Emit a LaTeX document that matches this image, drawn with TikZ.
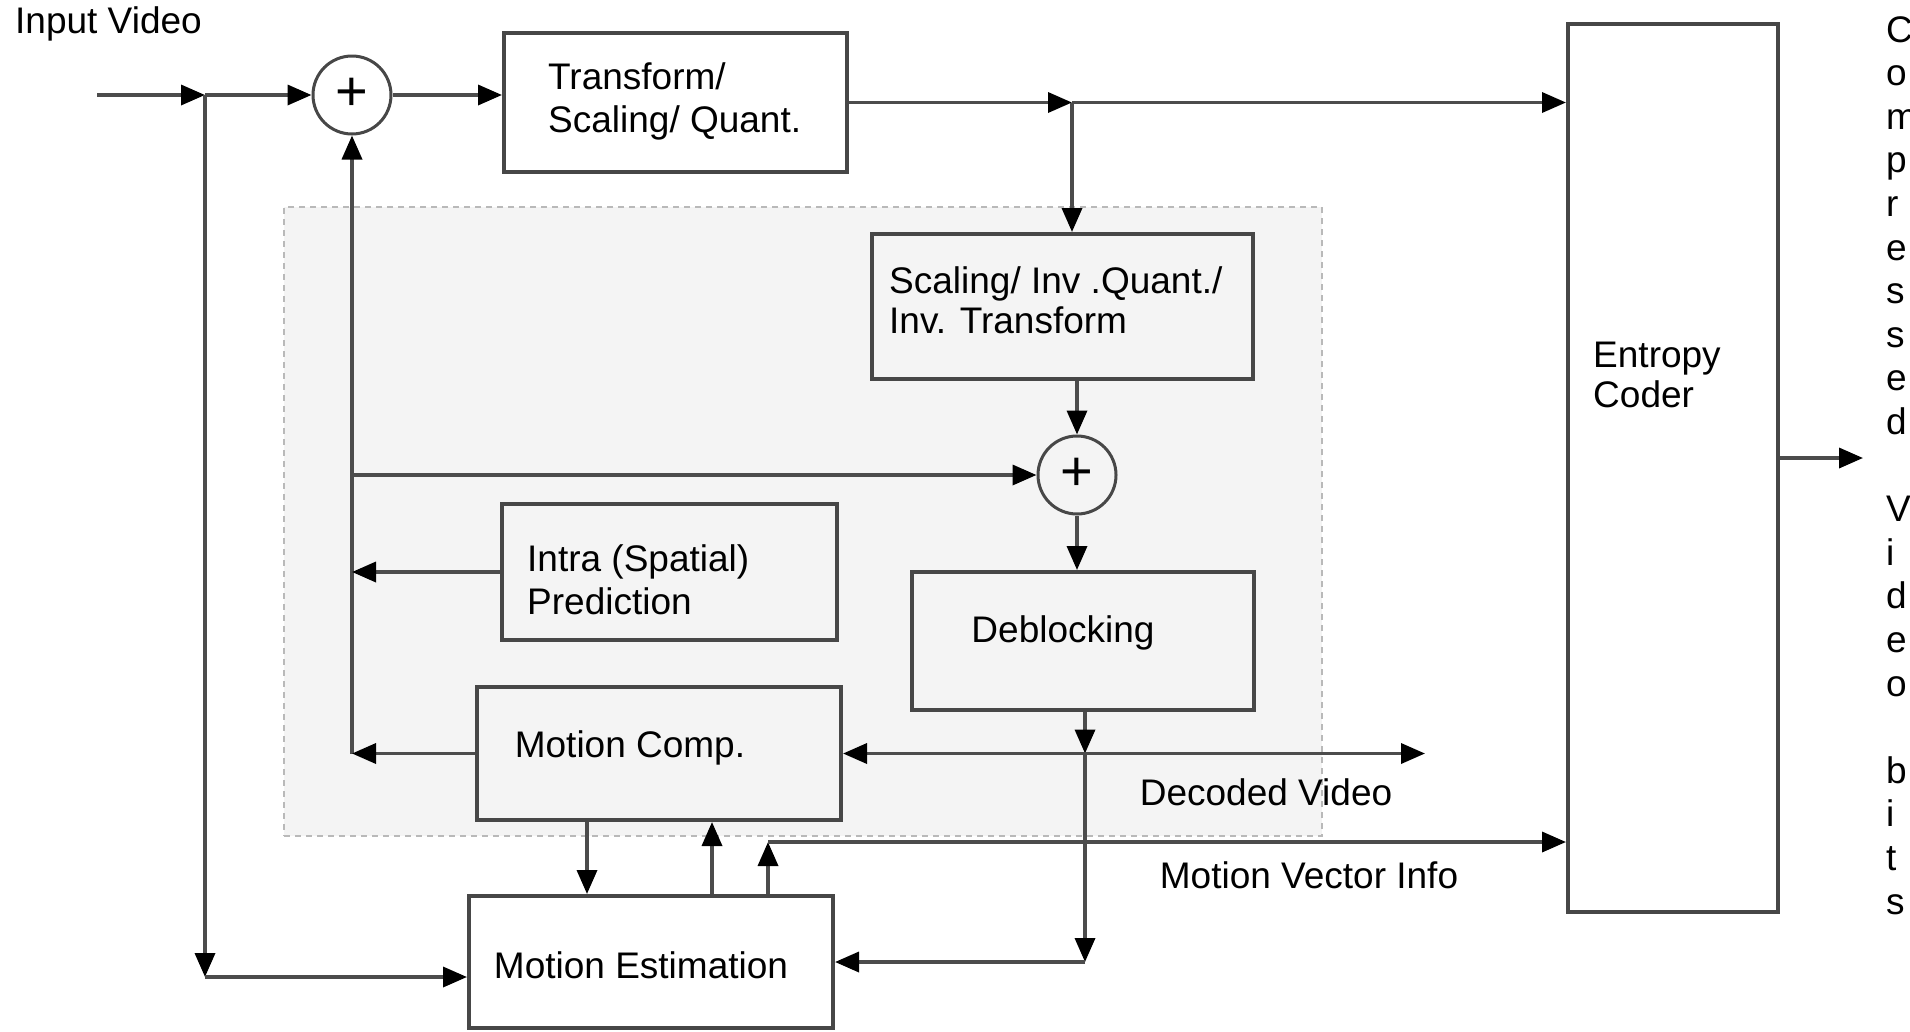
\documentclass[tikz,border=0pt]{standalone}
\usepackage{fontspec}
\setmainfont{Liberation Sans}
\usetikzlibrary{arrows.meta,calc}
\begin{document}
\begin{tikzpicture}[x=1pt,y=-1pt,
  box/.style={draw=black!72, line width=4pt, inner sep=0pt},
  region/.style={fill=gray!9, draw=gray!55, line width=2pt, dash pattern=on 6pt off 5pt, inner sep=0pt},
  sumnode/.style={circle, draw=black!72, line width=3pt, minimum size=78pt, inner sep=0pt, font=\fontsize{56}{56}\selectfont},
  conn/.style={draw=black!70, line width=3.5pt},
  arr/.style={conn, -{Triangle[length=24pt,width=20pt,color=black]}},
  lbl/.style={font=\fontsize{37}{43}\selectfont, inner sep=0pt, align=left}]
\useasboundingbox (0,0) rectangle (1910,1031);
% shaded region
\node[region, minimum width=1038pt, minimum height=629pt] (reg) at (803,521.5) {};
% boxes
\node[box, minimum width=343pt, minimum height=139pt] (trans) at (675.5,102.5) {};
\node[box, minimum width=381pt, minimum height=145pt] (inv) at (1062.5,306.5) {};
\node[box, minimum width=335pt, minimum height=136pt] (intra) at (669.5,572) {};
\node[box, minimum width=342pt, minimum height=138pt] (debl) at (1083,641) {};
\node[box, minimum width=364pt, minimum height=133pt] (mc) at (659,753.5) {};
\node[box, minimum width=364pt, minimum height=132pt] (me) at (651,962) {};
\node[box, minimum width=210pt, minimum height=888pt] (ent) at (1673,468) {};
\node[sumnode] (sum1) at (352,95) {\raisebox{2pt}{+}};
\node[sumnode] (sum2) at (1077,475) {\raisebox{2pt}{+}};
% coordinates
\coordinate (in) at (97,95);
\coordinate (br) at (205,95);
\coordinate (b2) at (1072,102.5);
\coordinate (c3) at (205,977);
\coordinate (j1) at (1085,753.5);
\coordinate (j2) at (1085,962);
\coordinate (dec) at (1425,753.5);
\coordinate (c4) at (768,842);
\coordinate (out) at (1863,458);
\coordinate (x1) at (587,0);
\coordinate (x2) at (712,0);
% connectors
\draw[arr] (in) -- (br);
\draw[arr] (br) -- (sum1.west);
\draw[arr] (sum1.east) -- (sum1.east -| trans.west);
\draw[arr] (trans.east) -- (b2);
\draw[arr] (b2) -- (b2 -| ent.west);
\draw[arr] (b2) -- (b2 |- inv.north);
\draw[arr] (inv.south -| sum2) -- (sum2.north);
\draw[arr] (sum2.south) -- (sum2.south |- debl.north);
\draw[arr] (mc.west -| sum1) -- (sum1.south);
\draw[arr] (sum2.west -| sum1) -- (sum2.west);
\draw[arr] (intra.west) -- (intra.west -| sum1);
\draw[arr] (mc.west) -- (mc.west -| sum1);
\draw[arr] (debl.south -| j1) -- (j1);
\draw[arr] (j1) -- (mc.east);
\draw[arr] (j1) -- (dec);
\draw[arr] (j1) -- (j2);
\draw[arr] (j2) -- (me.east);
\draw[arr] (br) -- (c3);
\draw[arr] (c3) -- (c3 -| me.west);
\draw[arr] (x1 |- mc.south) -- (x1 |- me.north);
\draw[arr] (x2 |- me.north) -- (x2 |- mc.south);
\draw[arr] (c4 |- me.north) -- (c4);
\draw[arr] (c4) -- (c4 -| ent.west);
\draw[arr] (ent.east |- out) -- (out);
% labels
\node[lbl, anchor=west] (inlbl) at (15,24) {Input Video};
\node[lbl, anchor=west] (translbl) at (548,101.5) {Transform/\\Scaling/ Quant.};
\node[lbl, anchor=west, font=\fontsize{37}{40}\selectfont] (invlbl) at (889,300) {Scaling/ Inv .Quant./\\Inv. Transform};
\node[lbl, anchor=west] (intralbl) at (527,580) {Intra (Spatial)\\Prediction};
\node[lbl] (debllbl) at (1063,633) {Deblocking};
\node[lbl] (mclbl) at (630,748) {Motion Comp.};
\node[lbl] (melbl) at (641,965) {Motion Estimation};
\node[lbl, anchor=west, font=\fontsize{37}{40}\selectfont] (entlbl) at (1593,375) {Entropy\\Coder};
\node[lbl] (declbl) at (1266,792) {Decoded Video};
\node[lbl] (mvlbl) at (1309,875) {Motion Vector Info};
\node[lbl, anchor=north west, font=\fontsize{37}{43.6}\selectfont] (outlbl) at (1886,16) {C\\o\\m\\p\\r\\e\\s\\s\\e\\d\\[43.6pt]V\\i\\d\\e\\o\\[43.6pt]b\\i\\t\\s};
\end{tikzpicture}
\end{document}
